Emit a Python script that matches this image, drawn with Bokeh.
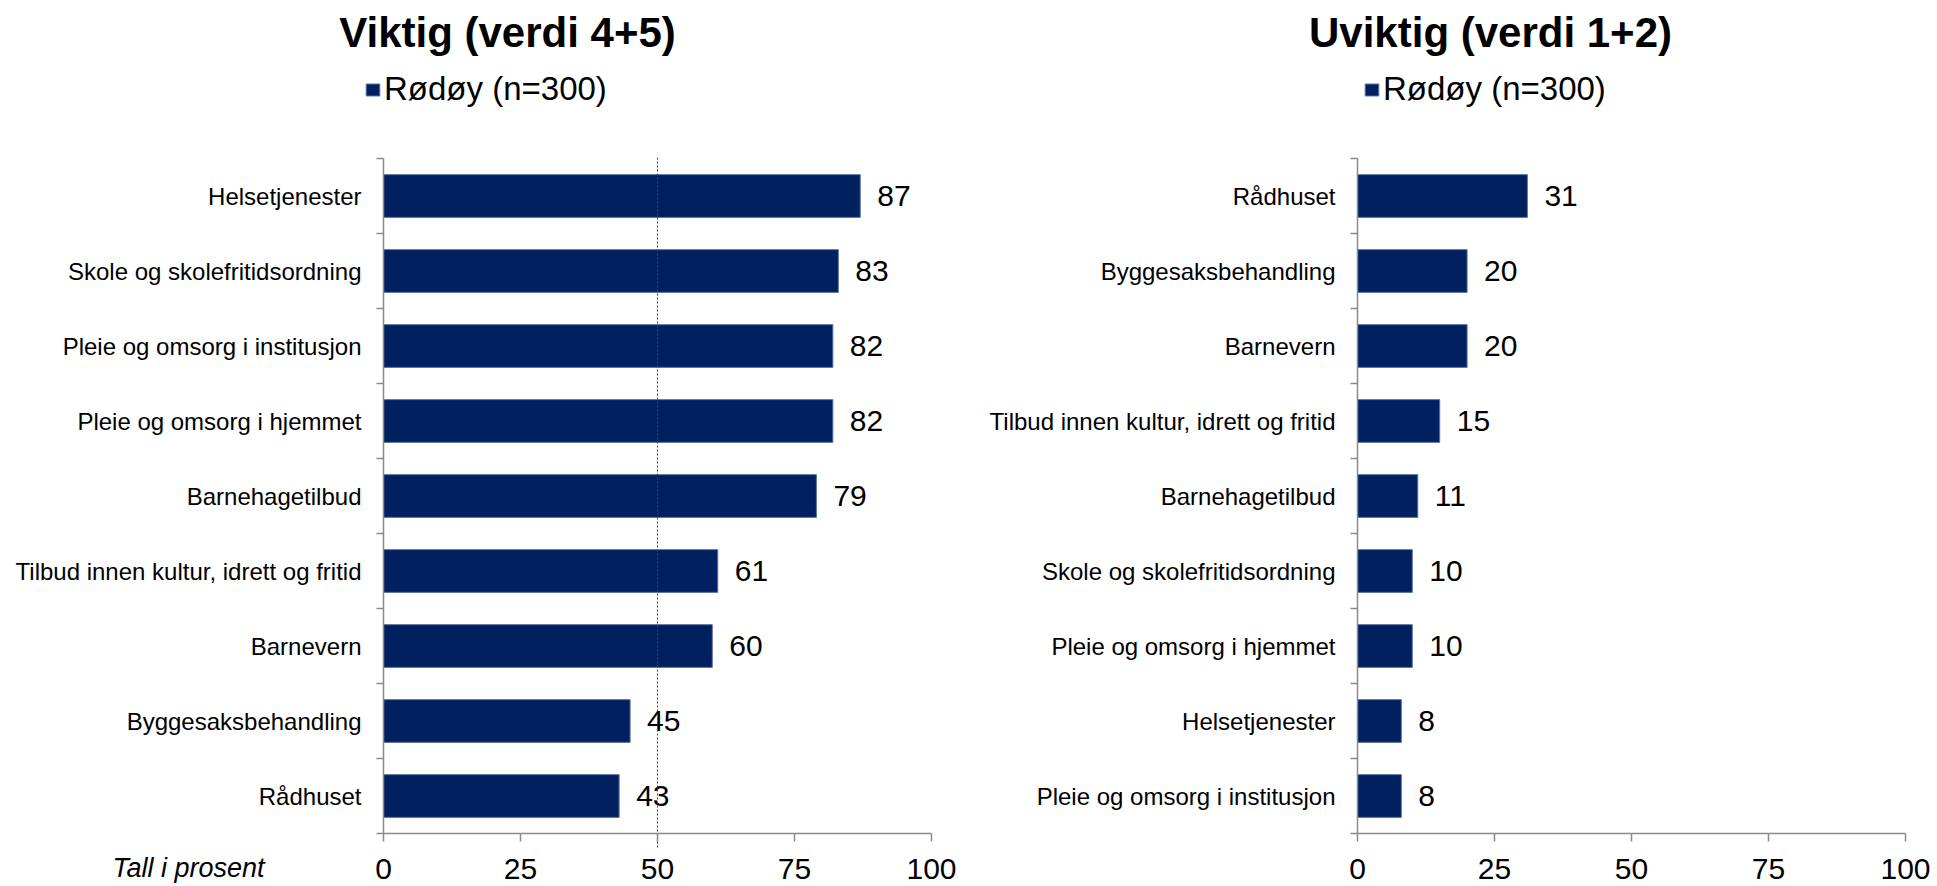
from bokeh.plotting import figure
from bokeh.models import (Range1d, FixedTicker, Label, Legend, LegendItem,
                          LinearAxis, ColumnDataSource)
from bokeh.layouts import row
from bokeh.embed import file_html
from bokeh.resources import INLINE
from bokeh.core.properties import value

# ---------------- data ----------------
left_title = "Viktig (verdi 4+5)"
left_categories = [
    "Helsetjenester",
    "Skole og skolefritidsordning",
    "Pleie og omsorg i institusjon",
    "Pleie og omsorg i hjemmet",
    "Barnehagetilbud",
    "Tilbud innen kultur, idrett og fritid",
    "Barnevern",
    "Byggesaksbehandling",
    "Rådhuset",
]
left_values = [87, 83, 82, 82, 79, 61, 60, 45, 43]

right_title = "Uviktig (verdi 1+2)"
right_categories = [
    "Rådhuset",
    "Byggesaksbehandling",
    "Barnevern",
    "Tilbud innen kultur, idrett og fritid",
    "Barnehagetilbud",
    "Skole og skolefritidsordning",
    "Pleie og omsorg i hjemmet",
    "Helsetjenester",
    "Pleie og omsorg i institusjon",
]
right_values = [31, 20, 20, 15, 11, 10, 10, 8, 8]

series_name = "Rødøy (n=300)"
x_ticks = [0, 25, 50, 75, 100]
x_min, x_max = 0, 100
reference_value = 50
axis_note = "Tall i prosent"

# ---------------- style / geometry (pixels) ----------------
FONT = "Liberation Sans"
BAR = "#002060"
BAR_EDGE = "#5a74a0"
AXIS = "#8a8a8a"
H = 886                 # figure height
FRAME_TOP = 158         # pixel row of first category boundary
FRAME_BOTTOM = 833      # pixel row of last category boundary (x axis)
PLOT_W = 548            # pixel width of 0..100


def make_panel(cats, vals, title, fig_w, axis_px, title_cx, legend_px,
               ref_line=None, note_px=None):
    n = len(cats)
    centers = [i + 0.5 for i in range(n)]
    bounds_y = list(range(n + 1))
    src = ColumnDataSource(dict(y=centers, v=vals, lab=[str(v) for v in vals]))

    xs = PLOT_W / (x_max - x_min)                  # px per unit
    ys = (FRAME_BOTTOM - FRAME_TOP) / n            # px per category
    x_range = Range1d(x_min - axis_px / xs, x_min + (fig_w - axis_px) / xs)
    y_range = Range1d(n + (H - FRAME_BOTTOM) / ys, -FRAME_TOP / ys)

    def px_to_x(px):
        return x_min + (px - axis_px) / xs

    def px_to_y(py):
        return (py - FRAME_TOP) / ys

    p = figure(width=fig_w, height=H, x_range=x_range, y_range=y_range,
               output_backend="svg", toolbar_location=None,
               x_axis_location=None, y_axis_location=None,
               min_border=0)
    p.xgrid.visible = False
    p.ygrid.visible = False
    p.outline_line_color = None
    p.background_fill_color = "white"
    p.border_fill_color = "white"

    bars = p.hbar(y="y", left=x_min, right="v", height=0.57, source=src,
                  fill_color=BAR, line_color=BAR_EDGE, line_width=1)

    p.text(x="v", y="y", text="lab", source=src, x_offset=17,
           text_baseline="middle", text_align="left",
           text_font=value(FONT), text_font_size="30px", text_color="black")

    # x axis at the bottom of the categories
    xa = LinearAxis(fixed_location=n, bounds=(x_min, x_max),
                    ticker=FixedTicker(ticks=x_ticks))
    xa.axis_line_color = AXIS
    xa.axis_line_width = 1.5
    xa.major_tick_line_color = AXIS
    xa.major_tick_line_width = 1.5
    xa.major_tick_out = 8
    xa.major_tick_in = 0
    xa.minor_tick_line_color = None
    xa.major_label_text_font = FONT
    xa.major_label_text_font_size = "30px"
    xa.major_label_text_color = "black"
    xa.major_label_standoff = 17
    p.add_layout(xa, "below")

    # y axis with category labels, ticks on the boundaries
    ya = LinearAxis(fixed_location=x_min, bounds=(0, n),
                    ticker=FixedTicker(ticks=centers, minor_ticks=bounds_y))
    ya.major_label_overrides = {c: cat for c, cat in zip(centers, cats)}
    ya.axis_line_color = AXIS
    ya.axis_line_width = 1.5
    ya.major_tick_line_color = None
    ya.major_tick_out = 0
    ya.major_tick_in = 0
    ya.minor_tick_line_color = AXIS
    ya.minor_tick_line_width = 1.5
    ya.minor_tick_out = 7
    ya.minor_tick_in = 0
    ya.major_label_text_font = FONT
    ya.major_label_text_font_size = "24px"
    ya.major_label_text_color = "black"
    ya.major_label_standoff = 15
    p.add_layout(ya, "left")

    if ref_line is not None:
        p.segment(x0=[ref_line], x1=[ref_line], y0=[px_to_y(157)],
                  y1=[px_to_y(847)], line_color="#e00000",
                  line_dash="2 2", line_width=1)

    p.add_layout(Label(x=px_to_x(title_cx), y=px_to_y(32), text=title,
                       text_font=FONT, text_font_style="bold",
                       text_font_size="42px", text_align="center",
                       text_baseline="middle", text_color="black"))

    legend = Legend(items=[LegendItem(label=series_name, renderers=[bars])],
                    location=(legend_px, H - 108), orientation="horizontal",
                    glyph_width=17, glyph_height=15, label_standoff=3,
                    padding=0, margin=0, spacing=0,
                    border_line_color=None, background_fill_alpha=0,
                    label_text_font=FONT, label_text_font_size="33px",
                    label_text_color="black", label_height=15)
    p.add_layout(legend)

    if note_px is not None:
        p.add_layout(Label(x=px_to_x(note_px), y=px_to_y(867), text=axis_note,
                           text_font=FONT, text_font_style="italic",
                           text_font_size="27px", text_align="left",
                           text_baseline="middle", text_color="black"))
    return p


left = make_panel(left_categories, left_values, left_title, fig_w=985,
                  axis_px=383, title_cx=507, legend_px=364,
                  ref_line=reference_value, note_px=112)
right = make_panel(right_categories, right_values, right_title, fig_w=952,
                   axis_px=372, title_cx=505, legend_px=378)

layout = row(left, right)
open("out.html", "w").write(file_html(layout, INLINE))
